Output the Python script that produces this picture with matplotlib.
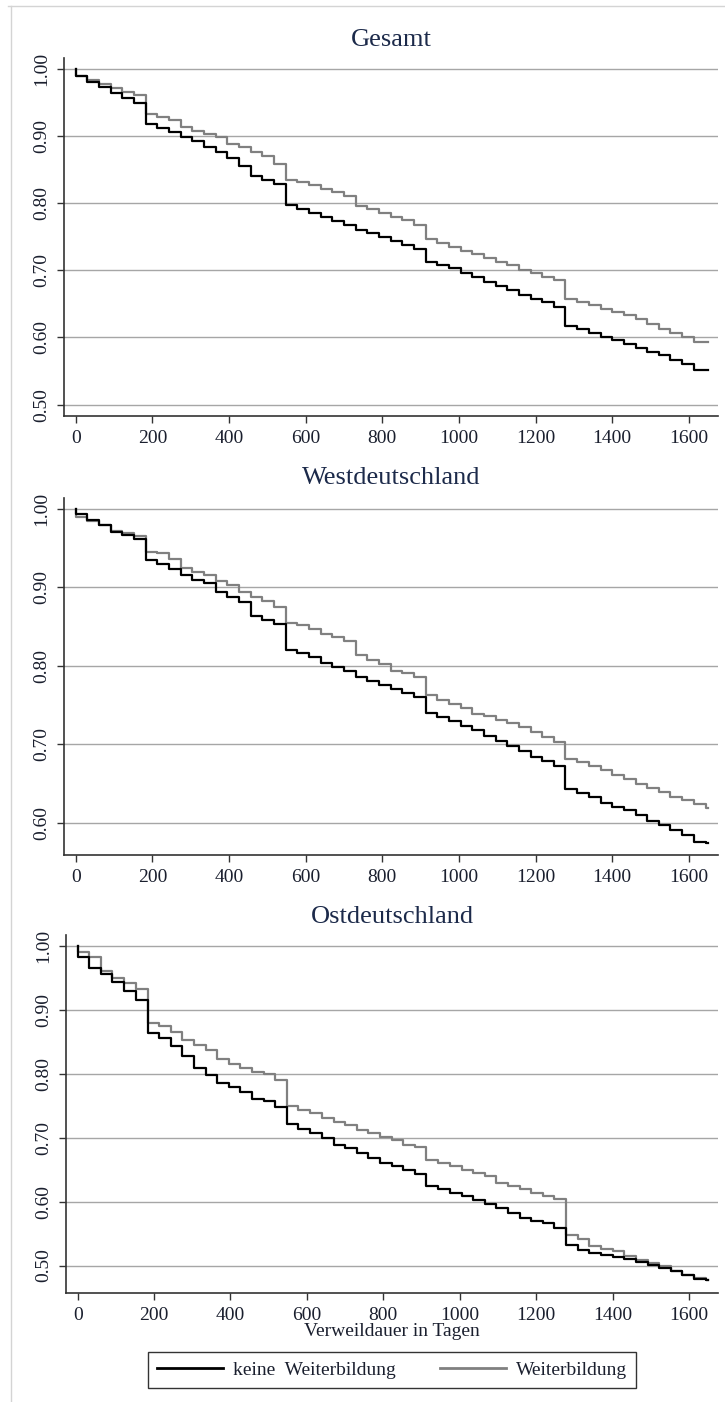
import numpy as np
import matplotlib
matplotlib.use('Agg')
import matplotlib.pyplot as plt
from matplotlib.lines import Line2D

plt.rcParams['font.family'] = ['Liberation Serif', 'DejaVu Serif']

# step times (days), one step per month
step_days = [0, 30, 61, 91, 122, 152, 183, 213, 244, 274, 304, 335, 365, 396,
             426, 457, 487, 517, 548, 578, 609, 639, 670, 700, 731, 761, 791,
             822, 852, 883, 913, 944, 974, 1005, 1035, 1065, 1096, 1126, 1157,
             1187, 1218, 1248, 1278, 1309, 1339, 1370, 1400, 1431, 1461, 1492,
             1522, 1552, 1583, 1613, 1644]
last_day = 1649

gesamt_keine = [0.989, 0.981, 0.973, 0.964, 0.957, 0.949,
                0.918, 0.912, 0.906, 0.899, 0.892, 0.884, 0.877, 0.868, 0.856, 0.840, 0.834, 0.828,
                0.797, 0.792, 0.786, 0.779, 0.773, 0.767, 0.760, 0.755, 0.749, 0.743, 0.738, 0.732,
                0.713, 0.708, 0.703, 0.696, 0.690, 0.683, 0.677, 0.671, 0.664, 0.658, 0.653, 0.645,
                0.617, 0.612, 0.607, 0.600, 0.596, 0.590, 0.585, 0.579, 0.574, 0.566, 0.560, 0.551, 0.551]
gesamt_wb = [0.989, 0.983, 0.978, 0.971, 0.966, 0.961, 0.933, 0.929, 0.924, 0.913,
             0.908, 0.903, 0.898, 0.889, 0.884, 0.876, 0.870, 0.858, 0.835, 0.831,
             0.827, 0.821, 0.817, 0.811, 0.796, 0.791, 0.786, 0.780, 0.775, 0.768,
             0.746, 0.741, 0.735, 0.729, 0.724, 0.719, 0.713, 0.708, 0.701, 0.696,
             0.690, 0.685, 0.658, 0.653, 0.648, 0.643, 0.638, 0.633, 0.627, 0.620,
             0.613, 0.607, 0.601, 0.593, 0.593]

west_keine = [0.993, 0.985, 0.979, 0.970, 0.966, 0.961,
              0.934, 0.929, 0.923, 0.915, 0.909, 0.905, 0.894, 0.888, 0.881, 0.864, 0.858, 0.853,
              0.820, 0.816, 0.811, 0.804, 0.799, 0.794, 0.786, 0.781, 0.776, 0.770, 0.765, 0.760,
              0.740, 0.735, 0.730, 0.723, 0.718, 0.711, 0.704, 0.698, 0.691, 0.684, 0.679, 0.672,
              0.643, 0.638, 0.633, 0.626, 0.621, 0.617, 0.610, 0.603, 0.598, 0.591, 0.585, 0.576, 0.575]
west_wb = [0.989, 0.984, 0.979, 0.972, 0.969, 0.965, 0.945, 0.943, 0.936, 0.924,
           0.919, 0.915, 0.908, 0.903, 0.894, 0.888, 0.883, 0.875, 0.855, 0.852,
           0.847, 0.841, 0.837, 0.831, 0.814, 0.807, 0.802, 0.794, 0.791, 0.786,
           0.763, 0.757, 0.752, 0.746, 0.739, 0.736, 0.731, 0.727, 0.722, 0.716,
           0.710, 0.703, 0.682, 0.677, 0.672, 0.667, 0.661, 0.656, 0.650, 0.644,
           0.640, 0.633, 0.629, 0.624, 0.619]

ost_keine = [0.982, 0.965, 0.956, 0.944, 0.930, 0.916,
             0.863, 0.856, 0.843, 0.827, 0.809, 0.798, 0.786, 0.780, 0.771, 0.760, 0.757, 0.748,
             0.722, 0.713, 0.707, 0.699, 0.689, 0.684, 0.676, 0.668, 0.660, 0.655, 0.650, 0.643,
             0.625, 0.619, 0.614, 0.608, 0.603, 0.596, 0.590, 0.582, 0.574, 0.569, 0.566, 0.558,
             0.532, 0.525, 0.520, 0.517, 0.514, 0.510, 0.506, 0.501, 0.496, 0.491, 0.485, 0.479, 0.477]
ost_wb = [0.990, 0.983, 0.961, 0.950, 0.942, 0.933, 0.880, 0.875, 0.866, 0.853,
          0.845, 0.837, 0.823, 0.815, 0.809, 0.803, 0.800, 0.790, 0.749, 0.743,
          0.738, 0.730, 0.725, 0.720, 0.712, 0.707, 0.701, 0.696, 0.689, 0.685,
          0.665, 0.660, 0.655, 0.650, 0.644, 0.640, 0.629, 0.624, 0.620, 0.614,
          0.609, 0.604, 0.548, 0.541, 0.530, 0.526, 0.522, 0.515, 0.509, 0.504,
          0.499, 0.491, 0.485, 0.480, 0.477]

titles = ['Gesamt', 'Westdeutschland', 'Ostdeutschland']
curves = [(gesamt_keine, gesamt_wb), (west_keine, west_wb), (ost_keine, ost_wb)]
yticks = [[0.5, 0.6, 0.7, 0.8, 0.9, 1.0],
          [0.6, 0.7, 0.8, 0.9, 1.0],
          [0.5, 0.6, 0.7, 0.8, 0.9, 1.0]]
ylims = [(0.483, 1.0164), (0.5593, 1.0135), (0.457, 1.017)]
xticks = [0, 200, 400, 600, 800, 1000, 1200, 1400, 1600]
labels = ['keine  Weiterbildung', 'Weiterbildung']

W, H = 725, 1402
# axes boxes in pixels: left, top, right, bottom
boxes = [(64, 58, 718, 416), (64, 498, 718, 855), (66, 935, 718, 1293)]
title_y = [40, 478, 917]

fig = plt.figure(figsize=(W / 100, H / 100), dpi=100)

# light outer frame
fig.add_artist(Line2D([8 / W, 1], [1 - 6 / H] * 2, color='#d4d4d4', lw=1))
fig.add_artist(Line2D([11 / W] * 2, [1 - 6 / H, 0], color='#d4d4d4', lw=1))

txt_col = '#1a1f2e'
for i, (l, t, r, b) in enumerate(boxes):
    ax = fig.add_axes([l / W, 1 - b / H, (r - l) / W, (b - t) / H])
    keine, wb = curves[i]
    x = [0] + step_days + [last_day]
    ax.plot(x, [1.0] + wb + [wb[-1]], drawstyle='steps-post', color='#808080', lw=1.6)
    ax.plot(x, [1.0] + keine + [keine[-1]], drawstyle='steps-post', color='black', lw=1.6)

    ax.set_xlim(-30.5, 1676)
    ax.set_ylim(*ylims[i])
    ax.set_xticks(xticks)
    ax.set_yticks(yticks[i])
    ax.set_yticklabels(['%.2f' % v for v in yticks[i]], rotation=90, va='center')
    ax.grid(axis='y', color='#a6a6a6', lw=1.0)
    ax.set_axisbelow(True)
    for s in ['top', 'right']:
        ax.spines[s].set_visible(False)
    for s in ['left', 'bottom']:
        ax.spines[s].set_color('#333333')
        ax.spines[s].set_linewidth(1.2)
    ax.tick_params(axis='both', length=5, width=1, color='#333333',
                   labelsize=14, labelcolor=txt_col)
    ax.tick_params(axis='y', pad=5)
    ax.tick_params(axis='x', pad=5)
    fig.text(((l + r) / 2) / W, 1 - title_y[i] / H, titles[i], ha='center', va='center',
             fontsize=19, color='#1c2a4a')

fig.text(392 / W, 1 - 1332 / H, 'Verweildauer in Tagen', ha='center', va='center',
         fontsize=14, color=txt_col)

handles = [Line2D([], [], color='black', lw=2), Line2D([], [], color='#808080', lw=2)]
leg = fig.legend(handles, labels, loc='center', bbox_to_anchor=(392 / W, 1 - 1370 / H),
                 ncol=2, frameon=True, fancybox=False, edgecolor='black', fontsize=14,
                 handlelength=3.4, handletextpad=0.5, columnspacing=2.3, borderpad=0.45)
leg.get_frame().set_linewidth(1.0)
for tx in leg.get_texts():
    tx.set_color(txt_col)

fig.savefig('out.png', dpi=100, facecolor='white')
